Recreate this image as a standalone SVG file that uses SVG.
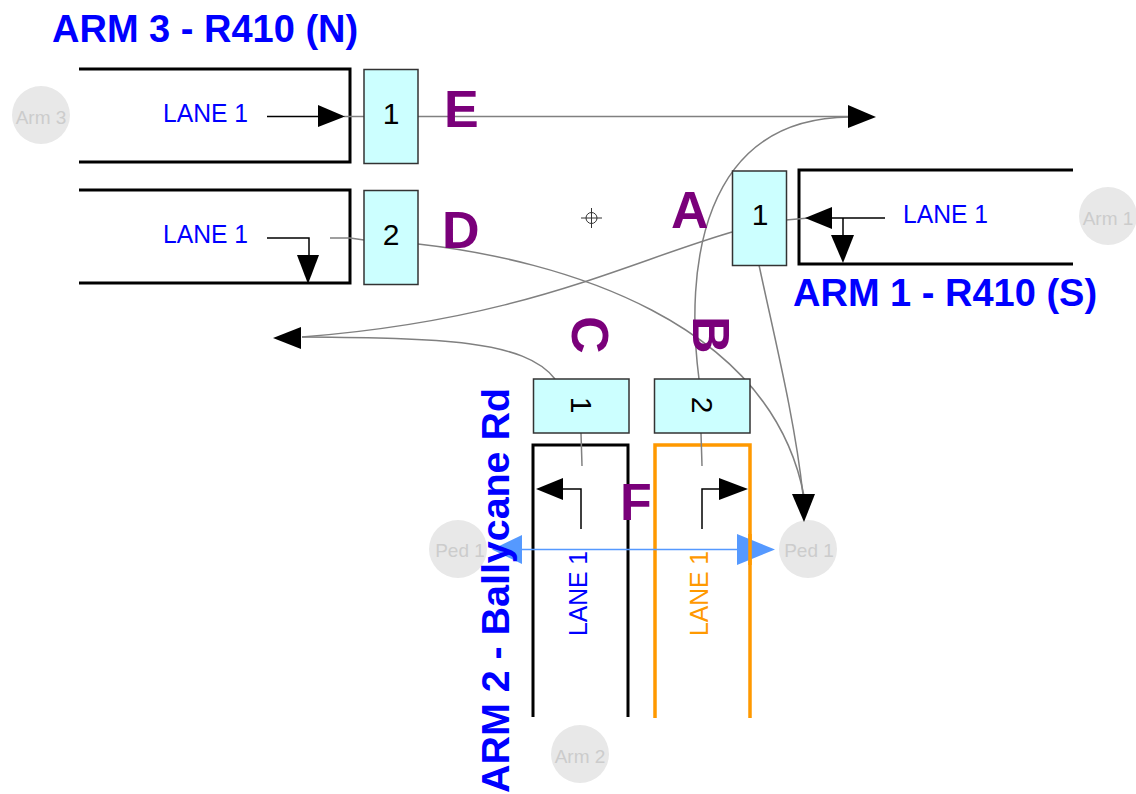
<svg xmlns="http://www.w3.org/2000/svg" width="1136" height="794" viewBox="0 0 1136 794">
<style>
text{font-family:"Liberation Sans",Arial,sans-serif}
.title{font-size:38px;font-weight:bold;fill:#0000ff}
.lane{font-size:26.500px;fill:#0000ff}
.lo{font-size:26.500px;fill:#ff9900}
.let{font-size:52px;font-weight:bold;fill:#7a007a}
.num{font-size:30px;fill:#000;text-anchor:middle}
.bg{fill:#e8e8e8}
.bgt{font-size:19px;fill:#cccccc;text-anchor:middle}
.sig{fill:#ccffff;stroke:#333;stroke-width:1.5}
.arm{fill:none;stroke:#000;stroke-width:3}
.armo{fill:none;stroke:#ff9900;stroke-width:3.5}
.g{fill:none;stroke:#808080;stroke-width:1.5}
.k{fill:none;stroke:#000;stroke-width:1.5}
.h{fill:#000}
.b{fill:#5599ff}
</style>
<g id="backdrops">
<g id="arm3-marker"><circle class="bg" cx="41" cy="115" r="29"/><text class="bgt" x="41" y="124">Arm 3</text></g>
<g id="arm1-marker"><circle class="bg" cx="1108" cy="216" r="29"/><text class="bgt" x="1108" y="225">Arm 1</text></g>
<g id="arm2-marker"><circle class="bg" cx="580" cy="754" r="29"/><text class="bgt" x="580" y="763">Arm 2</text></g>
<g id="ped-left"><circle class="bg" cx="458" cy="549" r="29"/><text class="bgt" x="460" y="557">Ped 1</text></g>
<g id="ped-right"><circle class="bg" cx="808" cy="549" r="29"/><text class="bgt" x="809" y="557">Ped 1</text></g>
</g>
<g id="arm3-lane1"><path class="arm" d="M79,69H350V162H79"/><text class="lane" x="163" y="122" textLength="85" lengthAdjust="spacingAndGlyphs">LANE 1</text></g>
<g id="arm3-lane2"><path class="arm" d="M79,190H350V283H79"/><text class="lane" x="163" y="243" textLength="85" lengthAdjust="spacingAndGlyphs">LANE 1</text></g>
<g id="arm1-lane1"><path class="arm" d="M1073,170H799V264H1073"/><text class="lane" x="903" y="223" textLength="85" lengthAdjust="spacingAndGlyphs">LANE 1</text></g>
<g id="arm2-lane1"><path class="arm" d="M533,717V445H628V717"/><text class="lane" transform="translate(587,636) rotate(-90)" textLength="85" lengthAdjust="spacingAndGlyphs">LANE 1</text></g>
<g id="arm2-lane2"><path class="armo" d="M655,718V445H750V718"/><text class="lo" transform="translate(708,636) rotate(-90)" textLength="85" lengthAdjust="spacingAndGlyphs">LANE 1</text></g>
<g id="connectors">
<path class="g" d="M344,116.500H364"/>
<path class="g" d="M418,116.500H850"/>
<path class="g" d="M330,238H350L364,240"/>
<path class="g" d="M418,244C560,260 770,320 804,496"/>
<path class="g" d="M759,265C775,340 795,420 803,495"/>
<path class="g" d="M732,232C620,265 520,320 302,337"/>
<path class="g" d="M555,379C525,340 440,338 302,337"/>
<path class="g" d="M699,379C685,270 700,118 850,117"/>
<path class="g" d="M786,220L820,217"/>
<path class="g" d="M581,433L582,466"/>
<path class="g" d="M701,433L702,466"/>
<path class="k" d="M267,116.500H320"/>
<polygon class="h" points="318,105 345,116.500 318,127"/>
<path class="k" d="M267,238H309V256"/>
<polygon class="h" points="297,255 319,255 308,284"/>
<polygon class="h" points="848,105 876,117 848,128"/>
<polygon class="h" points="301,327 273,338 301,349"/>
<polygon class="h" points="792,494 815,494 804,522"/>
<path class="k" d="M885,218H830M843,218V236"/>
<polygon class="h" points="832,207 805,218 832,229"/>
<polygon class="h" points="831,235 854,235 843,263"/>
<path class="k" d="M581,529V489H561"/>
<polygon class="h" points="563,478 536,489 563,500"/>
<path class="k" d="M702,529V489H721"/>
<polygon class="h" points="719,478 748,489 719,500"/>
<path d="M500,549.500H760" fill="none" stroke="#5599ff" stroke-width="1.500"/>
<polygon class="b" points="522,535 522,564 492,549.500"/>
<polygon class="b" points="737,534 737,565 775,549.500"/>
<path d="M750,534V565" stroke="#ff9900" stroke-width="3.500" fill="none"/>
</g>
<g id="signal-e"><rect class="sig" x="364" y="69.500" width="54" height="94"/><text class="num" x="391" y="124">1</text></g>
<g id="signal-d"><rect class="sig" x="364" y="190.500" width="54" height="94"/><text class="num" x="391" y="245">2</text></g>
<g id="signal-a"><rect class="sig" x="732.500" y="171" width="54" height="94.500"/><text class="num" x="760" y="225">1</text></g>
<g id="signal-c"><rect class="sig" x="533.500" y="379" width="95.500" height="54"/><text class="num" transform="translate(571,405) rotate(90)">1</text></g>
<g id="signal-b"><rect class="sig" x="654.500" y="379" width="95.500" height="54"/><text class="num" transform="translate(692,405) rotate(90)">2</text></g>
<g id="titles">
<text class="title" x="52" y="42">ARM 3 - R410 (N)</text>
<text class="title" x="793" y="306">ARM 1 - R410 (S)</text>
<text class="title" transform="translate(509,793) rotate(-90)" textLength="405" lengthAdjust="spacingAndGlyphs">ARM 2 - Ballycane Rd</text>
</g>
<g id="stage-letters">
<text class="let" x="444" y="127">E</text>
<text class="let" x="442" y="248">D</text>
<text class="let" x="671" y="228">A</text>
<text class="let" transform="translate(572,316) rotate(90)">C</text>
<text class="let" transform="translate(693,316) rotate(90)">B</text>
<text class="let" x="620" y="520">F</text>
</g>
<g id="crosshair" fill="none" stroke="#333" stroke-width="1"><circle cx="591.500" cy="218" r="5.500"/><path d="M581,218H602M591.500,208V228"/></g>
</svg>
